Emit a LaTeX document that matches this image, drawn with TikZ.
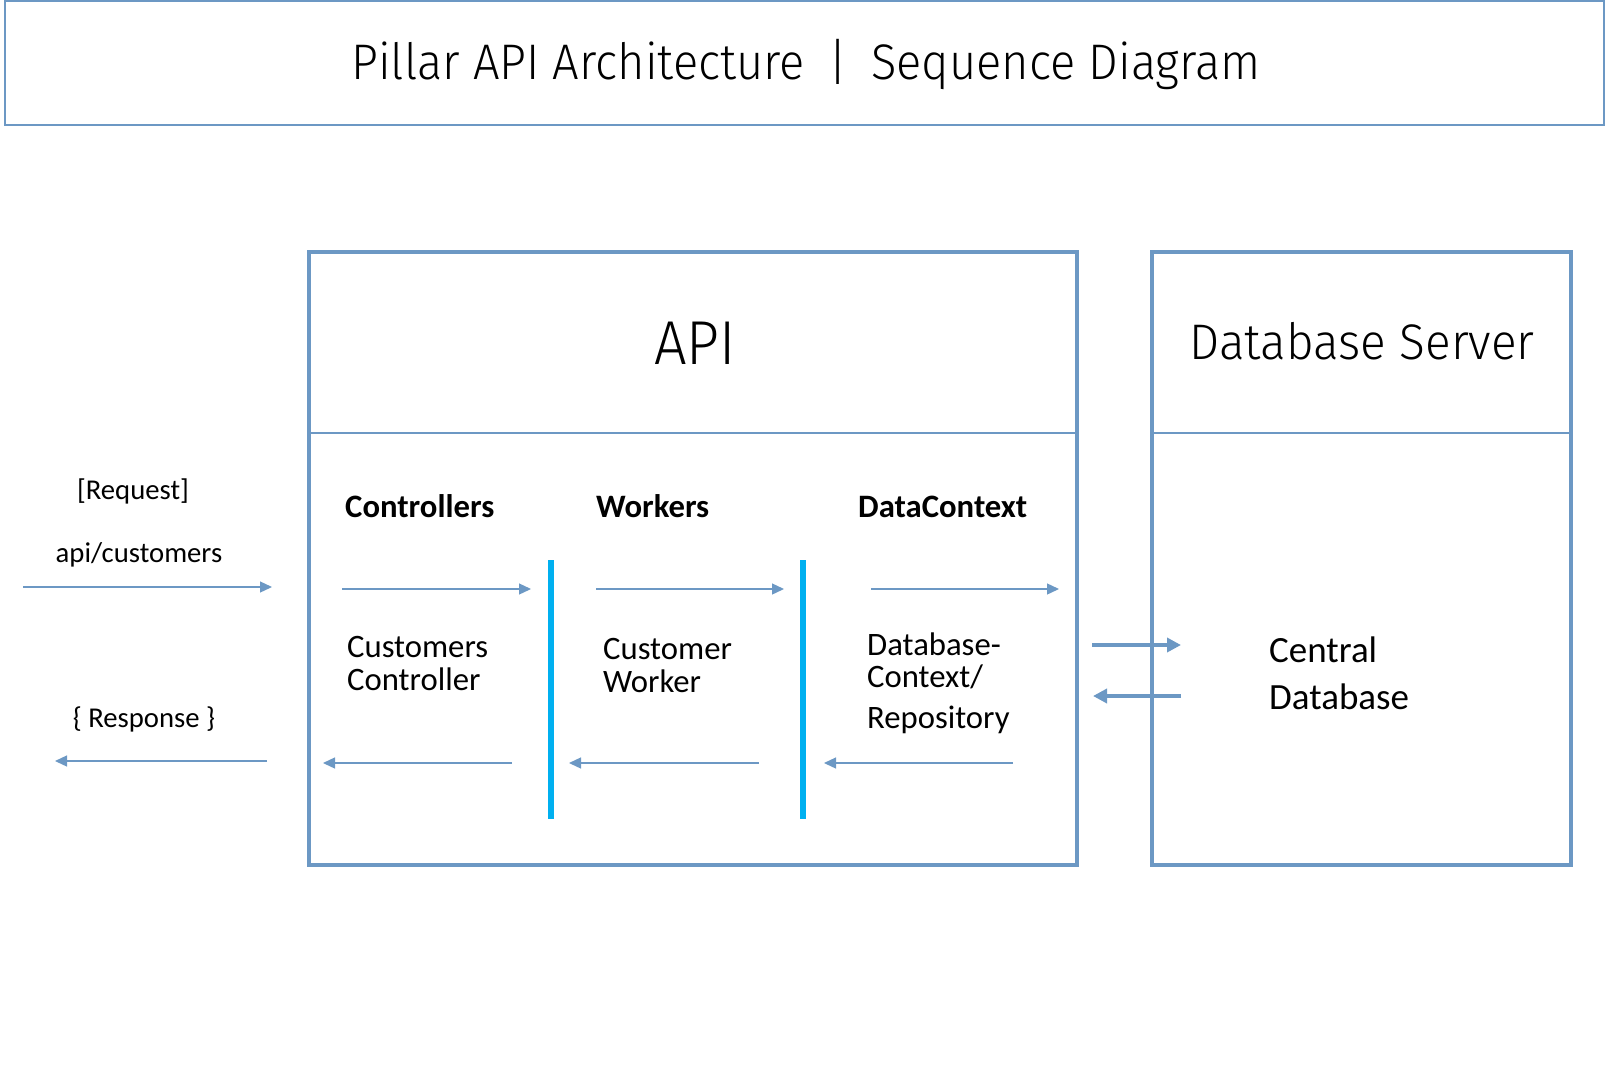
\documentclass[tikz,border=0pt]{standalone}
\usepackage{graphicx}
\usepackage{fontspec}
\setmainfont{Carlito}
\IfFontExistsTF{Fira Sans Light}{\newfontfamily\lightfont{Fira Sans Light}}{%
 \IfFontExistsTF{Lato Light}{\newfontfamily\lightfont{Lato Light}}{%
  \IfFontExistsTF{Open Sans Light}{\newfontfamily\lightfont{Open Sans Light}}{%
   \newfontfamily\lightfont{Open Sans}}}}
\usetikzlibrary{arrows.meta}
\definecolor{edgeblue}{RGB}{108,152,196}
\definecolor{barcyan}{RGB}{0,176,240}
\begin{document}
\begin{tikzpicture}[x=1pt,y=-1pt,
  flow/.style={draw=edgeblue,line width=1.3pt,-{Triangle[length=12pt,width=11pt]}},
  bigflow/.style={draw=edgeblue,line width=4.5pt,-{Triangle[length=14pt,width=14pt]}},
  frame/.style={draw=edgeblue,line width=3.6pt},
  divider/.style={draw=edgeblue,line width=1.6pt},
  bar/.style={draw=barcyan,line width=5.5pt},
  lbl/.style={anchor=base,inner sep=0pt,font=\fontsize{28.7}{34}\selectfont},
  inner/.style={anchor=base west,inner sep=0pt,font=\fontsize{32.7}{38}\selectfont},
  head/.style={anchor=base west,inner sep=0pt,font=\bfseries\fontsize{32.7}{38}\selectfont},
  dbtext/.style={anchor=base west,inner sep=0pt,font=\fontsize{37}{44}\selectfont},
  bigtitle/.style={anchor=base,inner sep=0pt,font=\lightfont\fontsize{#1}{#1}\selectfont}
]
\useasboundingbox (0,0) rectangle (1606,1092);
% title box
\draw[edgeblue,line width=1.3pt] (5,1) rectangle (1604,125);
\node[bigtitle=50] (title) at (806,79) {\scalebox{0.94}[1]{Pillar API Architecture\hspace{0.5em}|\hspace{0.5em}Sequence Diagram}};
% API box
\draw[frame,line width=4pt] (309,252) -- (1077,252);
\draw[frame] (309,252) rectangle (1077,865);
\draw[divider] (309,433) -- (1077,433);
\node[bigtitle=62] (api) at (695,364) {\scalebox{0.93}[1]{API}};
% Database server box
\draw[frame,line width=3.4pt] (1152,252) rectangle (1571,865);
\draw[divider] (1152,433) -- (1571,433);
\node[bigtitle=50] (dbserver) at (1362,359) {\scalebox{0.955}[1]{Database Server}};
% left labels
\node[lbl] (req) at (133,499) {[Request]};
\node[lbl] (apicust) at (139,562) {api/customers};
\node[lbl] (resp) at (144,727) {\{ Response \}};
\coordinate (reqs) at (23,587); \coordinate (reqe) at (272,587);
\coordinate (resps) at (267,761); \coordinate (respe) at (55,761);
\draw[flow] (reqs) -- (reqe);
\draw[flow] (resps) -- (respe);
% headers
\node[head] (ctrl) at (345,517) {Controllers};
\node[head] (work) at (596,517) {Workers};
\node[head] (dctx) at (858,517) {DataContext};
% bars
\coordinate (b1t) at (551,560); \coordinate (b1b) at (551,819);
\coordinate (b2t) at (803,560); \coordinate (b2b) at (803,819);
\draw[bar] (b1t) -- (b1b);
\draw[bar] (b2t) -- (b2b);
% forward arrows
\coordinate (f1s) at (342,589); \coordinate (f1e) at (531,589);
\coordinate (f2s) at (596,589); \coordinate (f2e) at (784,589);
\coordinate (f3s) at (871,589); \coordinate (f3e) at (1059,589);
\draw[flow] (f1s) -- (f1e);
\draw[flow] (f2s) -- (f2e);
\draw[flow] (f3s) -- (f3e);
% back arrows
\coordinate (r1s) at (512,763); \coordinate (r1e) at (323,763);
\coordinate (r2s) at (759,763); \coordinate (r2e) at (569,763);
\coordinate (r3s) at (1013,763); \coordinate (r3e) at (824,763);
\draw[flow] (r1s) -- (r1e);
\draw[flow] (r2s) -- (r2e);
\draw[flow] (r3s) -- (r3e);
% component texts
\node[inner] (cc1) at (347,657) {Customers};
\node[inner] (cc2) at (347,690) {Controller};
\node[inner] (cw1) at (603,659) {Customer};
\node[inner] (cw2) at (603,692) {Worker};
\node[inner] (dr1) at (867,655) {Database-};
\node[inner] (dr2) at (867,687) {Context/};
\node[inner] (dr3) at (867,728) {Repository};
% database link
\coordinate (d1s) at (1092,645); \coordinate (d1e) at (1181,645);
\coordinate (d2s) at (1181,696); \coordinate (d2e) at (1093,696);
\draw[bigflow] (d1s) -- (d1e);
\draw[bigflow] (d2s) -- (d2e);
\node[dbtext] (cdb1) at (1269,662) {Central};
\node[dbtext] (cdb2) at (1269,709) {Database};
\end{tikzpicture}
\end{document}
